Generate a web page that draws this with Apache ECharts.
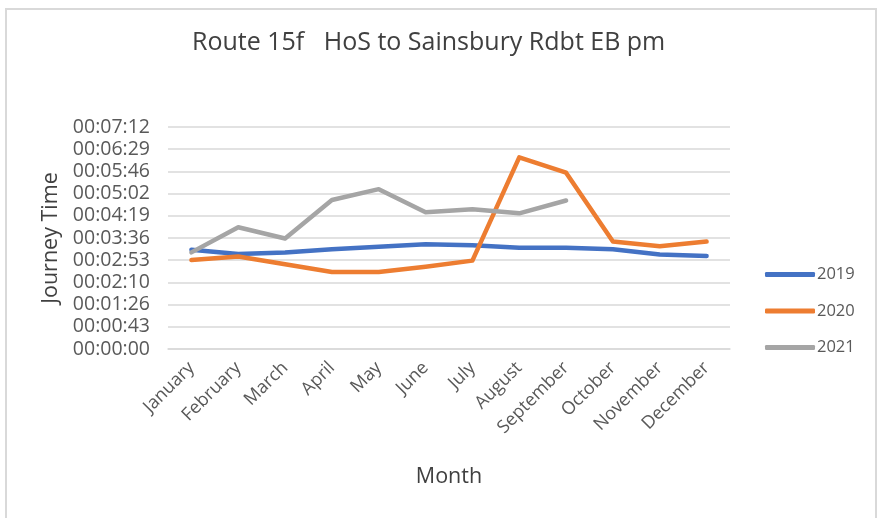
<!DOCTYPE html>
<html>
<head>
<meta charset="utf-8">
<script src="https://cdn.jsdelivr.net/npm/echarts@6/dist/echarts.min.js"></script>
<style>
  html, body { margin: 0; padding: 0; background: #fff; }
  #frame { position: absolute; left: 5px; top: 8px; width: 872px; height: 520px; border: 2px solid #d9d9d9; border-bottom: none; box-sizing: border-box; }
  #chart { position: absolute; left: 0; top: 0; width: 880px; height: 518px; }
</style>
</head>
<body>
<div id="frame"></div>
<div id="chart"></div>
<script>
// journey times in seconds
const months = ['January', 'February', 'March', 'April', 'May', 'June', 'July', 'August', 'September', 'October', 'November', 'December'];
const y2019 = [193, 185, 188, 194, 199, 204, 202, 197, 197, 194, 184, 181];
const y2020 = [173, 180, 165, 150, 150, 160, 172, 373, 343, 209, 200, 209];
const y2021 = [188, 237, 215, 290, 311, 266, 272, 264, 289, null, null, null];
const yTicks = [0, 43.2, 86.4, 129.6, 172.8, 216, 259.2, 302.4, 345.6, 388.8, 432];

function fmt(v) {
  const s = Math.round(v);
  const p = n => String(n).padStart(2, '0');
  return p(Math.floor(s / 3600)) + ':' + p(Math.floor(s / 60) % 60) + ':' + p(s % 60);
}

const txt = '#595959';
const font = "'Open Sans', 'Liberation Sans', sans-serif";
const chart = echarts.init(document.getElementById('chart'));

const mkSeries = (name, data, color) => ({
  name: name,
  type: 'line',
  data: data,
  symbol: 'none',
  lineStyle: { width: 4.5, color: color, cap: 'round', join: 'round' },
  itemStyle: { color: color }
});

chart.setOption({
  animation: false,
  textStyle: { fontFamily: font },
  title: {
    text: 'Route 15f   HoS to Sainsbury Rdbt EB pm',
    left: 187, top: 25,
    textStyle: { fontSize: 25, fontWeight: 'normal', color: '#404040', fontFamily: font }
  },
  legend: {
    orient: 'vertical',
    left: 760, top: 261,
    itemGap: 19.5,
    itemWidth: 50, itemHeight: 5,
    icon: 'roundRect',
    textStyle: { fontSize: 16.5, color: txt, padding: [0, 0, 0, -3] },
    data: ['2019', '2020', '2021']
  },
  grid: { left: 168, right: 150, top: 127, bottom: 169, containLabel: false },
  xAxis: {
    type: 'category',
    data: months,
    boundaryGap: true,
    name: 'Month',
    nameLocation: 'middle',
    nameGap: 117,
    nameTextStyle: { fontSize: 21.5, color: '#404040' },
    axisLine: { lineStyle: { color: '#d9d9d9', width: 1.5 } },
    axisTick: { show: false },
    axisLabel: { rotate: 45, fontSize: 18, color: txt, margin: 16, interval: 0 }
  },
  yAxis: {
    type: 'value',
    min: 0, max: 432, interval: 43.2,
    name: 'Journey Time',
    nameLocation: 'middle',
    nameGap: 103,
    nameTextStyle: { fontSize: 21.5, color: '#404040' },
    axisLine: { show: false },
    axisTick: { show: false },
    splitLine: { lineStyle: { color: '#d9d9d9', width: 1.5 } },
    axisLabel: {
      fontSize: 19.5, color: txt, margin: 18,
      formatter: v => fmt(yTicks.reduce((a, b) => Math.abs(b - v) < Math.abs(a - v) ? b : a))
    }
  },
  series: [
    mkSeries('2019', y2019, '#4472C4'),
    mkSeries('2020', y2020, '#ED7D31'),
    mkSeries('2021', y2021, '#A5A5A5')
  ]
});
</script>
</body>
</html>
